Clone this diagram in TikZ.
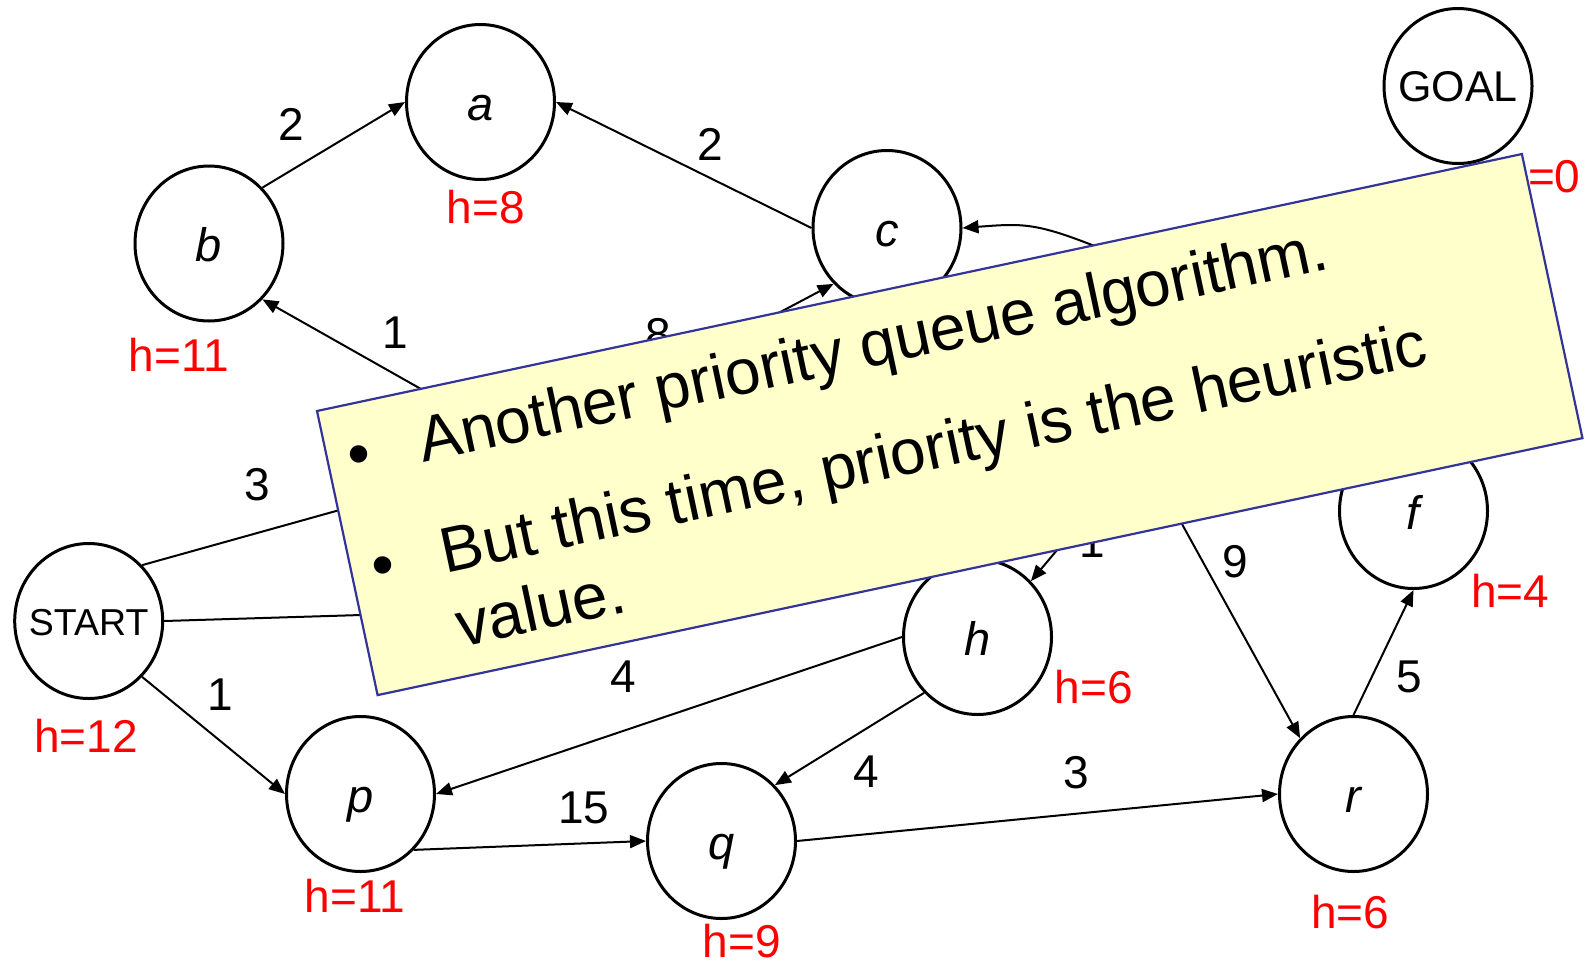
\documentclass[tikz,border=0pt]{standalone}
\usepackage{fontspec}
\setmainfont{Liberation Sans}
\usetikzlibrary{arrows.meta,shapes.geometric}
\definecolor{hred}{RGB}{255,0,0}
\definecolor{boxblue}{RGB}{51,51,153}
\definecolor{boxfill}{RGB}{255,255,204}
\begin{document}
\begin{tikzpicture}[x=1pt,y=-1pt,
  gnode/.style={ellipse, draw=black, line width=3pt, fill=white,
    minimum width=148pt, minimum height=155pt, inner sep=0pt,
    font=\fontsize{47}{47}\selectfont\itshape, text height=36pt, text depth=0pt},
  wordnode/.style={gnode, inner xsep=-20pt},
  conn/.style={line width=2pt, draw=black},
  arr/.style={conn, -{Triangle[length=16pt,width=13pt]}},
  wlabel/.style={font=\fontsize{46}{46}\selectfont, anchor=base, inner sep=0pt},
  hlabel/.style={font=\fontsize{46}{46}\selectfont, text=hred, anchor=base, inner sep=0pt},
  boxtext/.style={font=\fontsize{64}{75}\selectfont, inner sep=0pt, transform shape},
]
\useasboundingbox (0,0) rectangle (1585,964);

% nodes
\node[gnode] (a) at (480.5,102) {a};
\node[gnode] (b) at (209,243.5) {b};
\node[gnode] (c) at (887,228) {c};
\node[wordnode, font=\fontsize{43}{43}\selectfont, text height=31pt] (goal) at (1458,86) {GOAL};
\node[wordnode, font=\fontsize{37.5}{37.5}\selectfont, text height=28pt] (start) at (88.7,621) {START};
\node[gnode] (h) at (977.5,637) {h};
\node[gnode] (f) at (1413.5,511) {f};
\node[gnode] (p) at (360.5,794) {p};
\node[gnode] (q) at (721.5,841) {q};
\node[gnode] (r) at (1353.5,794) {r};

% hidden ends (under the callout)
\coordinate (db) at (490,428);
\coordinate (dc) at (629,392);
\coordinate (sd) at (440,482);
\coordinate (se) at (460,612);
\coordinate (eh) at (1094,506);
\coordinate (er) at (1161,486);
\coordinate (ec) at (1200,290);

% connectors
\draw[arr] (b.north east) -- (a.west);
\draw[arr] (c.west) -- (a.east);
\draw[arr] (db) -- (b.south east);
\draw[arr] (dc) -- (c.south west);
\draw[arr] (ec) .. controls (1040,222) .. (c.east);
\draw[conn] (start.north east) -- (sd);
\draw[conn] (start.east) -- (se);
\draw[arr] (start.south east) -- (p.west);
\draw[arr] (h.west) -- (p.east);
\draw[arr] (h.south west) -- (q.north east);
\draw[arr] (p.south east) -- (q.west);
\draw[arr] (q.east) -- (r.west);
\draw[arr] (eh) -- (h.north east);
\draw[arr] (er) -- (r.north west);
\draw[arr] (r.north) -- (f.south);

% edge weights
\node[wlabel] (w1) at (291.5,140) {2};
\node[wlabel] (w2) at (710,160) {2};
\node[wlabel] (w3) at (395,348) {1};
\node[wlabel] (w4) at (658,350) {8};
\node[wlabel] (w5) at (257,500) {3};
\node[wlabel] (w6) at (220,710) {1};
\node[wlabel] (w7) at (623,692) {4};
\node[wlabel] (w8) at (584,823) {15};
\node[wlabel] (w9) at (866,787) {4};
\node[wlabel] (w10) at (1076.5,788) {3};
\node[wlabel] (w11) at (1235,577) {9};
\node[wlabel] (w12) at (1092,557) {1};
\node[wlabel] (w13) at (1409,692) {5};

% heuristic values
\node[hlabel] (ha) at (486,223) {h=8};
\node[hlabel] (hb) at (179,371) {h=11};
\node[hlabel] (hs) at (86,752) {h=12};
\node[hlabel] (hp) at (355,912) {h=11};
\node[hlabel] (hq) at (742,957) {h=9};
\node[hlabel] (hh) at (1094,703) {h=6};
\node[hlabel] (hr) at (1350,928) {h=6};
\node[hlabel] (hf) at (1510,607) {h=4};
\node[hlabel] (hg) at (1541.5,192) {h=0};

% callout
\begin{scope}[shift={(317,411)}, rotate=12.04]
  \draw[line width=2.2pt, draw=boxblue, fill=boxfill] (0,0) rectangle (1232,290.5);
  \node[boxtext, anchor=base] (b1) at (32,72.4) {•};
  \node[boxtext, anchor=base west] (t1) at (93,72.4) {Another priority queue algorithm.};
  \node[boxtext, anchor=base] (b2) at (32,185.7) {•};
  \node[boxtext, anchor=base west] (t2) at (92,185.7) {But this time, priority is the heuristic};
  \node[boxtext, anchor=base west] (t3) at (92,261) {value.};
\end{scope}
\end{tikzpicture}
\end{document}
